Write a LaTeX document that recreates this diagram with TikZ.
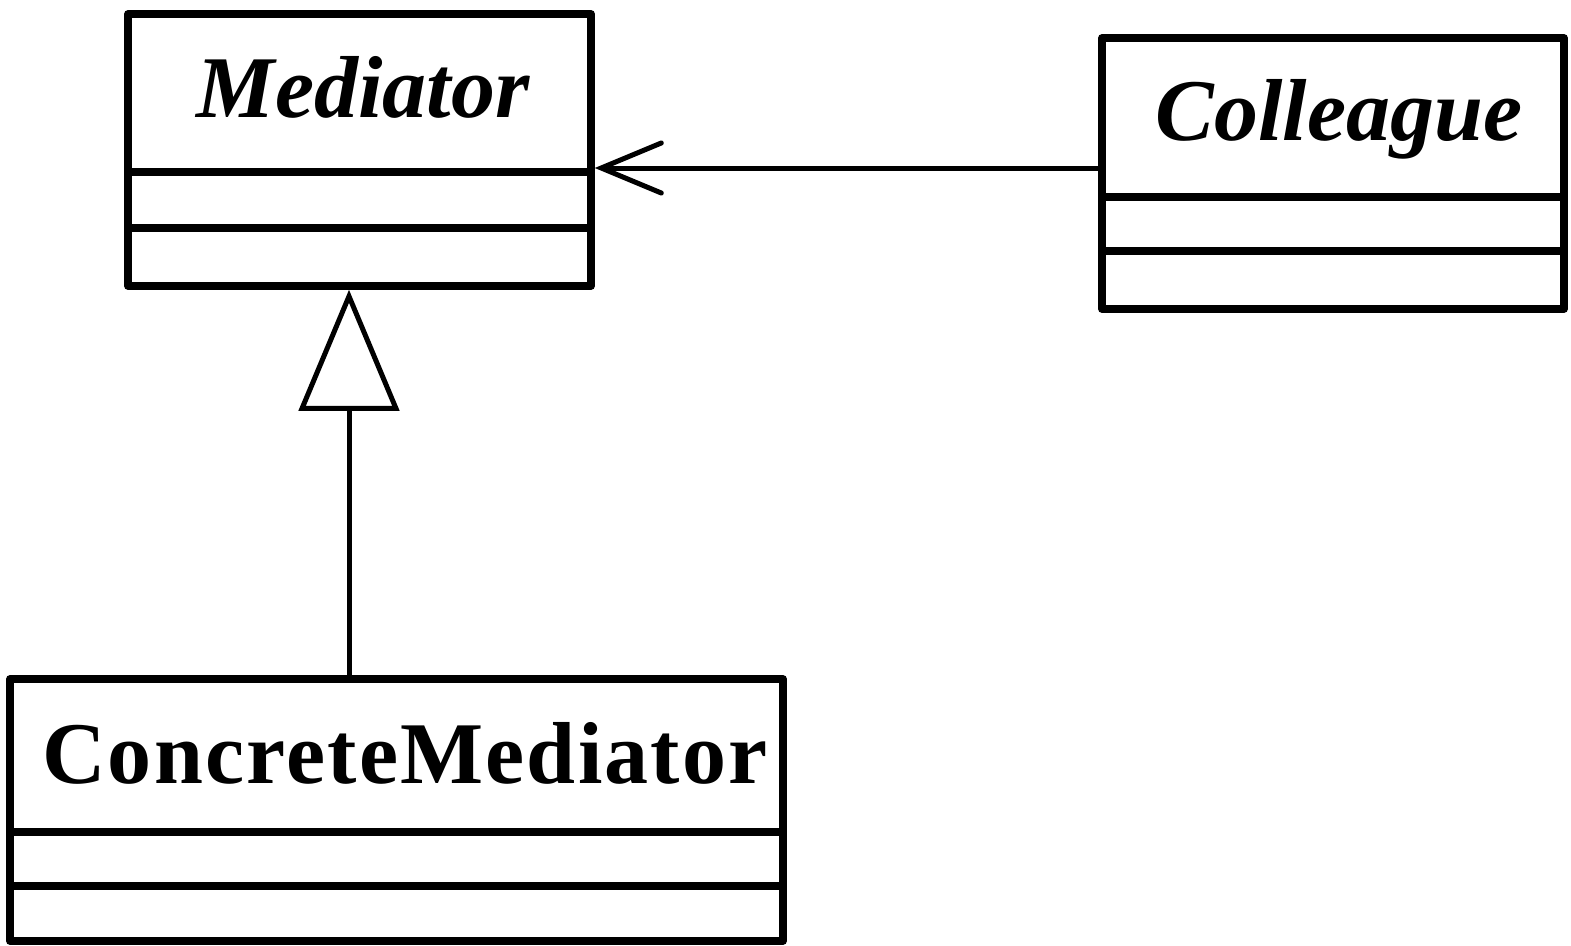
\documentclass[tikz,border=0pt]{standalone}
\usepackage{fontspec}
\setmainfont{Liberation Serif}
\newfontfamily\spacedserif[LetterSpace=2.5]{Liberation Serif}
\usetikzlibrary{arrows.meta}
\begin{document}
\begin{tikzpicture}[x=1pt,y=-1pt,
  classbox/.style={draw=black,line width=7.5pt,rectangle,inner sep=0pt,line join=round},
  divider/.style={line width=7.5pt},
  abstractname/.style={anchor=base,inner sep=0pt,font=\fontsize{88}{100}\selectfont\bfseries\itshape},
  concretename/.style={anchor=base,inner sep=0pt,font=\spacedserif\fontsize{88}{100}\selectfont\bfseries},
  inherit/.style={line width=5pt,-{Triangle[open,length=121pt,width=100pt,line join=miter]}},
  assoc/.style={line width=5pt,line cap=round,-{Straight Barb[length=60pt,width=50pt,line cap=round]}}]
\useasboundingbox (0,0) rectangle (1571,945);

% Mediator (abstract)
\node[classbox,minimum width=463pt,minimum height=272pt] (med) at (359.5,150) {};
\draw[divider] (med.west |- 0,172) -- (med.east |- 0,172);
\draw[divider] (med.west |- 0,228) -- (med.east |- 0,228);
\node[abstractname] (medname) at (363,117) {Mediator};

% Colleague (abstract)
\node[classbox,minimum width=462pt,minimum height=271pt] (col) at (1333,173.5) {};
\draw[divider] (col.west |- 0,197) -- (col.east |- 0,197);
\draw[divider] (col.west |- 0,251) -- (col.east |- 0,251);
\node[abstractname] (colname) at (1339,140) {Colleague};

% ConcreteMediator
\node[classbox,minimum width=773pt,minimum height=262pt] (cm) at (396.5,810) {};
\draw[divider] (cm.west |- 0,832) -- (cm.east |- 0,832);
\draw[divider] (cm.west |- 0,886) -- (cm.east |- 0,886);
\node[concretename] (cmname) at (405,783) {ConcreteMediator};

% Relations
\coordinate (gen) at (349,0);
\coordinate (lvl) at (0,168);
\draw[inherit] (cm.north -| gen) -- (med.south -| gen);
\draw[assoc] (col.west |- lvl) -- (med.east |- lvl);
\end{tikzpicture}
\end{document}
